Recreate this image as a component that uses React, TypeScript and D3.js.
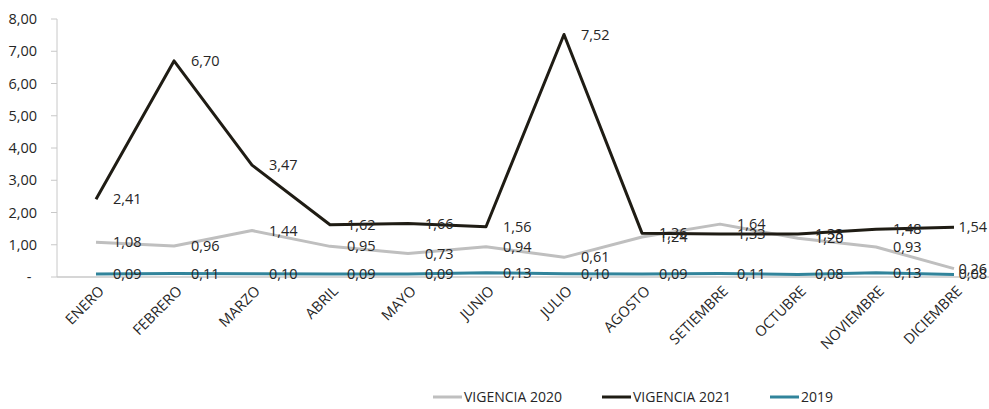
import React from "react";
import * as d3 from "d3";

const months = ["ENERO","FEBRERO","MARZO","ABRIL","MAYO","JUNIO","JULIO","AGOSTO","SETIEMBRE","OCTUBRE","NOVIEMBRE","DICIEMBRE"];
const vig2020 = [1.08,0.96,1.44,0.95,0.73,0.94,0.61,1.24,1.64,1.20,0.93,0.26];
const vig2021 = [2.41,6.70,3.47,1.62,1.66,1.56,7.52,1.36,1.33,1.33,1.48,1.54];
const y2019 = [0.09,0.11,0.10,0.09,0.09,0.13,0.10,0.09,0.11,0.08,0.13,0.08];
const yTicks = [0,1,2,3,4,5,6,7,8];
const seriesNames = ["VIGENCIA 2020","VIGENCIA 2021","2019"];
const seriesColors = ["#bfbfbf","#1f1c14","#31849b"];

const W = 989, H = 409;
const FONT = "'Open Sans', sans-serif";

export default function App() {
  const x = d3.scaleBand<string>().domain(months).range([57, 993]).padding(0);
  const cx = (m: string) => (x(m) as number) + x.bandwidth() / 2;
  const y = d3.scaleLinear().domain([0, 8]).range([277, 19]);
  const fmt = (v: number) => v.toFixed(2).replace(".", ",");
  const series = [vig2020, vig2021, y2019];
  const line = d3.line<number>().x((_, i) => cx(months[i])).y((d) => y(d));
  const legendX = [433, 602, 770];
  const last = months.length - 1;

  return (
    <svg width={W} height={H} style={{ position: "absolute", left: 0, top: 0, background: "#fff" }} fontFamily={FONT}>
      {/* axes */}
      <line x1={57} x2={57} y1={y(8)} y2={y(0)} stroke="#c8c8c8" strokeWidth={1} />
      <line x1={57} x2={W} y1={y(0)} y2={y(0)} stroke="#c8c8c8" strokeWidth={1.5} />
      {yTicks.map((t) => (
        <g key={t}>
          <line x1={51} x2={57} y1={y(t)} y2={y(t)} stroke="#c8c8c8" />
          <text x={t === 0 ? 29 : 37} y={y(t)} dy="0.35em" textAnchor={t === 0 ? "middle" : "end"} fontSize={14.5} fill="#262626">
            {t === 0 ? "-" : fmt(t)}
          </text>
        </g>
      ))}
      {months.map((m) => (
        <text key={m} transform={`translate(${cx(m) + 9},${292}) rotate(-45)`} textAnchor="end" fontSize={14.5} fill="#262626">
          {m}
        </text>
      ))}
      {series.map((s, k) => (
        <path key={k} d={line(s) as string} fill="none" stroke={seriesColors[k]} strokeWidth={3} strokeLinejoin="round" />
      ))}
      {series.map((s, k) =>
        s.map((v, i) => (
          <text key={`${k}-${i}`} x={i === last ? 987 : cx(months[i]) + 17} y={y(v)} dy="0.35em"
            textAnchor={i === last ? "end" : "start"} fontSize={14.5} fill="#262626">
            {fmt(v)}
          </text>
        ))
      )}
      {seriesNames.map((n, k) => (
        <g key={n}>
          <line x1={legendX[k]} x2={legendX[k] + 29} y1={397} y2={397} stroke={seriesColors[k]} strokeWidth={3} />
          <text x={legendX[k] + 31} y={397} dy="0.35em" fontSize={14} fill="#262626">{n}</text>
        </g>
      ))}
    </svg>
  );
}
